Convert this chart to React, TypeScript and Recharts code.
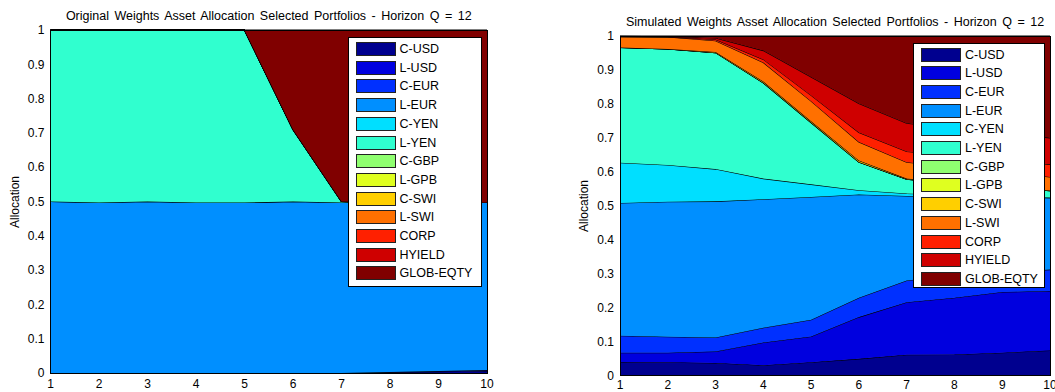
import React from 'react';
import { AreaChart, Area, XAxis, YAxis } from 'recharts';

const FONT = '"Liberation Sans", Arial, Helvetica, sans-serif';
const PAGE_W = 1055;
const PAGE_H = 392;

// Horizon steps on the x axis
const periods = [1, 2, 3, 4, 5, 6, 7, 8, 9, 10];
const yTicks = [0, 0.1, 0.2, 0.3, 0.4, 0.5, 0.6, 0.7, 0.8, 0.9, 1];

const assetNames = [
  'C-USD', 'L-USD', 'C-EUR', 'L-EUR', 'C-YEN', 'L-YEN', 'C-GBP',
  'L-GPB', 'C-SWI', 'L-SWI', 'CORP', 'HYIELD', 'GLOB-EQTY',
];

// jet colormap, 13 evenly spaced steps
const assetColors = [
  '#00008F', '#0000DF', '#0030FF', '#008FFF', '#00DFFF', '#30FFCF', '#8FFF70',
  '#DFFF20', '#FFCF00', '#FF7000', '#FF2000', '#CF0000', '#800000',
];

// Original weights, one array per asset class
const origCUsd = [0, 0, 0, 0, 0, 0, 0, 0.002, 0.004, 0.006];
const origLUsd = [0, 0, 0, 0, 0, 0, 0, 0.001, 0.002, 0.003];
const origCEur = [0, 0, 0, 0, 0, 0, 0, 0, 0, 0];
const origLEur = [0.5, 0.497, 0.5, 0.497, 0.497, 0.5, 0.497, 0.494, 0.491, 0.488];
const origCYen = [0, 0, 0, 0, 0, 0, 0, 0, 0, 0];
const origLYen = [0.5, 0.503, 0.5, 0.503, 0.503, 0.21, 0.003, 0, 0, 0];
const origCGbp = [0, 0, 0, 0, 0, 0, 0, 0, 0, 0];
const origLGpb = [0, 0, 0, 0, 0, 0, 0, 0, 0, 0];
const origCSwi = [0, 0, 0, 0, 0, 0, 0, 0, 0, 0];
const origLSwi = [0, 0, 0, 0, 0, 0, 0, 0, 0, 0];
const origCorp = [0, 0, 0, 0, 0, 0, 0, 0, 0, 0];
const origHyield = [0, 0, 0, 0, 0, 0, 0, 0, 0, 0];
const origGlobEqty = [0, 0, 0, 0, 0, 0.29, 0.5, 0.503, 0.503, 0.503];

// Simulated weights, one array per asset class
const simCUsd = [0.04, 0.039, 0.037, 0.03, 0.039, 0.049, 0.061, 0.062, 0.067, 0.074];
const simLUsd = [0.027, 0.028, 0.034, 0.067, 0.076, 0.123, 0.155, 0.167, 0.179, 0.175];
const simCEur = [0.05, 0.047, 0.041, 0.044, 0.049, 0.057, 0.064, 0.066, 0.059, 0.063];
const simLEur = [0.391, 0.398, 0.401, 0.378, 0.362, 0.304, 0.249, 0.232, 0.22, 0.212];
const simCYen = [0.119, 0.108, 0.095, 0.061, 0.037, 0.013, 0.007, 0.005, 0.003, 0];
const simLYen = [0.339, 0.342, 0.343, 0.282, 0.182, 0.083, 0.042, 0.033, 0.027, 0.02];
const simCGbp = [0, 0, 0, 0, 0, 0, 0, 0, 0, 0];
const simLGpb = [0, 0, 0, 0, 0, 0, 0, 0, 0, 0];
const simCSwi = [0, 0, 0.002, 0.004, 0.004, 0.004, 0.002, 0.002, 0.001, 0.001];
const simLSwi = [0.032, 0.035, 0.033, 0.056, 0.059, 0.055, 0.048, 0.048, 0.044, 0.04];
const simCorp = [0, 0, 0.004, 0.009, 0.017, 0.028, 0.032, 0.033, 0.035, 0.037];
const simHyield = [0.001, 0.001, 0.004, 0.026, 0.054, 0.085, 0.083, 0.08, 0.079, 0.078];
const simGlobEqty = [0.001, 0.002, 0.006, 0.043, 0.121, 0.199, 0.257, 0.272, 0.286, 0.3];

const originalSeries = [
  origCUsd, origLUsd, origCEur, origLEur, origCYen, origLYen, origCGbp,
  origLGpb, origCSwi, origLSwi, origCorp, origHyield, origGlobEqty,
];
const simulatedSeries = [
  simCUsd, simLUsd, simCEur, simLEur, simCYen, simLYen, simCGbp,
  simLGpb, simCSwi, simLSwi, simCorp, simHyield, simGlobEqty,
];

type Row = Record<string, number>;

function buildRows(series: number[][]): Row[] {
  return periods.map((p, i) => {
    const row: Row = { period: p };
    assetNames.forEach((name, k) => {
      row[name] = series[k][i];
    });
    return row;
  });
}

interface Box { left: number; top: number; width: number; height: number }

interface PanelProps {
  title: string;
  rows: Row[];
  chartLeft: number;
  chartWidth: number;
  plotLeft: number;
  plotRight: number;
  plotTop: number;
  plotBottom: number;
  titleY: number;
  yLabelX: number;
  xTickGap: number;
  legend: Box;
}

function LegendBox({ box }: { box: Box }) {
  return (
    <div
      style={{
        position: 'absolute', left: box.left, top: box.top, width: box.width, height: box.height,
        background: '#fff', border: '1px solid #000', boxSizing: 'border-box',
      }}
    >
      {assetNames.map((name, k) => (
        <div key={name} style={{ position: 'absolute', left: 7, top: 4 + k * 18.7, height: 14, display: 'flex', alignItems: 'center' }}>
          <div style={{ width: 40, height: 14, background: assetColors[k], border: '1px solid #222', boxSizing: 'border-box' }} />
          <span style={{ marginLeft: 4, fontSize: 12.5, fontFamily: FONT, color: '#000', lineHeight: '14px', whiteSpace: 'nowrap' }}>{name}</span>
        </div>
      ))}
    </div>
  );
}

function AllocationPanel(p: PanelProps) {
  const left = p.plotLeft - p.chartLeft;
  const right = p.chartLeft + p.chartWidth - p.plotRight;
  const xAxisHeight = PAGE_H - p.plotBottom;
  const tickStyle = { fill: '#000', fontSize: 12, fontFamily: FONT };
  return (
    <>
      <div style={{ position: 'absolute', left: p.chartLeft, top: 0, width: p.chartWidth, height: PAGE_H }}>
        <AreaChart
          width={p.chartWidth}
          height={PAGE_H}
          data={p.rows}
          margin={{ top: p.plotTop, right, bottom: 0, left: 0 }}
        >
          {assetNames.map((name, k) => (
            <Area
              key={name}
              type="linear"
              dataKey={name}
              stackId="alloc"
              fill={assetColors[k]}
              fillOpacity={1}
              stroke="#000"
              strokeWidth={1.1}
              dot={false}
              activeDot={false}
              isAnimationActive={false}
            />
          ))}
          <XAxis
            dataKey="period"
            type="number"
            domain={[1, 10]}
            ticks={periods}
            interval={0}
            height={xAxisHeight}
            tickLine={false}
            axisLine={false}
            tickSize={2}
            tickMargin={p.xTickGap - 2}
            tick={tickStyle}
          />
          <YAxis
            type="number"
            domain={[0, 1]}
            ticks={yTicks}
            interval={0}
            width={left}
            tickLine={false}
            axisLine={false}
            tickSize={3}
            tickMargin={3}
            tick={tickStyle}
          />
        </AreaChart>
      </div>
      {/* axes box */}
      <div
        style={{
          position: 'absolute', left: p.plotLeft - 0.5, top: p.plotTop - 0.5,
          width: p.plotRight - p.plotLeft + 1, height: p.plotBottom - p.plotTop + 1,
          border: '1px solid #000', boxSizing: 'border-box', pointerEvents: 'none',
        }}
      />
      <div
        style={{
          position: 'absolute', left: (p.plotLeft + p.plotRight) / 2, top: p.titleY,
          transform: 'translate(-50%, -50%)', whiteSpace: 'nowrap',
          fontSize: 12.5, wordSpacing: 2, fontFamily: FONT, color: '#000',
        }}
      >
        {p.title}
      </div>
      <div
        style={{
          position: 'absolute', left: p.yLabelX, top: (p.plotTop + p.plotBottom) / 2,
          transform: 'translate(-50%, -50%) rotate(-90deg)', whiteSpace: 'nowrap',
          fontSize: 12, fontFamily: FONT, color: '#000',
        }}
      >
        Allocation
      </div>
      <LegendBox box={p.legend} />
    </>
  );
}

export default function App() {
  const originalRows = buildRows(originalSeries);
  const simulatedRows = buildRows(simulatedSeries);
  return (
    <div style={{ position: 'absolute', left: 0, top: 0, width: PAGE_W, height: PAGE_H, background: '#fff', overflow: 'hidden' }}>
      <AllocationPanel
        title="Original Weights Asset Allocation Selected Portfolios - Horizon Q = 12"
        rows={originalRows}
        chartLeft={0}
        chartWidth={530}
        plotLeft={50.5}
        plotRight={487}
        plotTop={30}
        plotBottom={373}
        titleY={16}
        yLabelX={15}
        xTickGap={6}
        legend={{ left: 347.5, top: 37, width: 134, height: 250 }}
      />
      <AllocationPanel
        title="Simulated Weights Asset Allocation Selected Portfolios - Horizon Q = 12"
        rows={simulatedRows}
        chartLeft={530}
        chartWidth={525}
        plotLeft={620}
        plotRight={1050}
        plotTop={36}
        plotBottom={375.5}
        titleY={22}
        yLabelX={584}
        xTickGap={4.5}
        legend={{ left: 913, top: 42.5, width: 132, height: 245.5 }}
      />
    </div>
  );
}
